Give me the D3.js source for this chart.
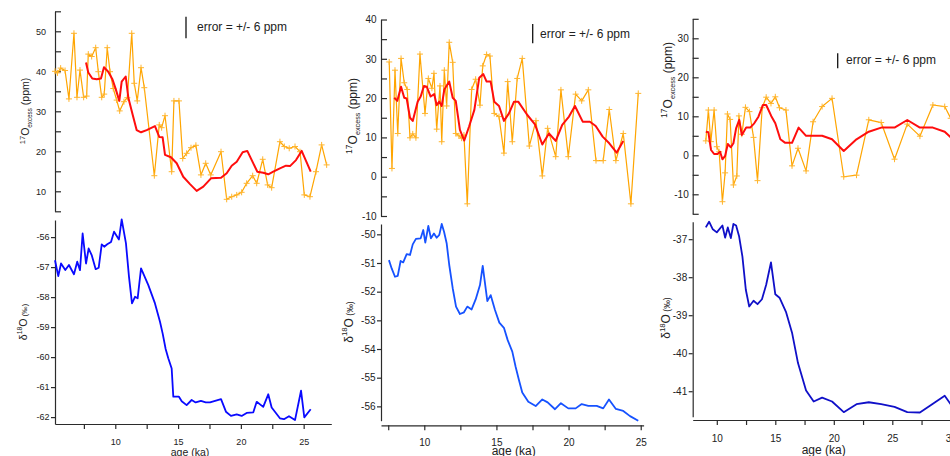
<!DOCTYPE html>
<html><head><meta charset="utf-8">
<script src="https://cdn.jsdelivr.net/npm/d3@7"></script>
<style>html,body{margin:0;padding:0;background:#fff;overflow:hidden}svg{display:block}</style>
</head><body>
<svg id="chart" width="950" height="456"></svg>
<script>
// ---------------- DATA ----------------
// Panel 1
const p1ExcessAge = [5.2,5.4,5.65,6.0,6.31,6.71,6.95,7.19,7.48,7.72,7.85,8.12,8.44,8.65,8.92,9.12,9.36,9.58,9.84,10.11,10.35,10.69,10.96,11.31,11.51,11.75,12.05,12.31,13.11,13.5,13.69,13.96,14.49,14.67,15.07,15.37,15.68,16.03,16.42,16.82,17.2,17.6,18.42,18.87,19.27,19.67,20.06,20.46,20.94,21.26,21.74,22.13,22.45,23.11,23.46,23.85,24.31,24.71,25.05,25.5,25.98,26.43,26.83];
const p1Excess = [40,39.6,40.8,40.2,33.1,49.5,33.5,40.3,33.5,33.8,44.3,43.7,45.9,39.9,33.5,34.3,45.9,39.9,35.7,32.8,30.1,32.4,33.4,49.5,37,32.6,40.9,35.9,13.9,26.6,25.9,28.9,14.9,32.6,32.6,18.2,19.5,20.9,21.5,14.1,17,14.1,19.9,8,8.65,9.1,9.75,12,13.9,12,18,11.6,10.9,22.4,21.2,20.75,21.2,19.9,9.1,8.65,14.9,21.6,16.6];
const p1SmoothAge = [7.67,7.85,8.17,8.52,8.86,9.1,9.44,9.76,10.03,10.32,10.51,10.83,11.04,11.39,11.7,12.05,12.5,13.16,13.5,13.77,13.96,14.43,14.89,15.41,15.95,16.48,17.01,17.62,18.42,18.87,19.27,19.67,20.14,20.51,21.31,21.78,22.18,22.58,23.11,23.59,23.91,24.39,24.84,25.56];
const p1Smooth = [42.2,39.7,38.2,38,38.2,41,39.9,38.1,35.6,32.6,37.4,38.7,33.4,29.1,25.3,24.75,25.3,26.3,23.6,23.5,19.1,18.5,17,13.65,11.8,10.1,11.15,13.25,13.4,14.5,16.4,17.4,19.75,20.1,14.9,14.65,14.25,14.9,15.75,16.4,16.3,17.8,20.1,14.9];
const p1D18Age = [5.2,5.46,5.68,6.02,6.31,6.71,6.97,7.19,7.4,7.67,7.88,8.12,8.44,8.68,8.92,9.12,9.36,9.66,9.9,10.29,10.51,10.85,11.09,11.33,11.57,11.78,12.05,12.63,13.16,13.56,13.77,14.01,14.22,14.49,14.62,15.07,15.29,15.68,16.08,16.4,16.82,17.2,17.54,18.42,18.81,19.21,19.67,20.06,20.46,20.99,21.26,21.78,22.18,22.45,23.11,23.43,23.83,24.31,24.79,25.05,25.56];
const p1D18 = [-56.77,-57.3,-56.88,-57.1,-56.93,-57.24,-56.82,-57.1,-55.88,-56.88,-56.38,-56.6,-57.07,-57.02,-56.24,-56.32,-56.24,-56.16,-55.82,-56.08,-55.41,-56.21,-57.32,-58.21,-57.99,-58.04,-57.04,-57.6,-58.21,-58.82,-59.21,-59.73,-60.04,-60.38,-61.32,-61.32,-61.47,-61.6,-61.43,-61.51,-61.46,-61.51,-61.51,-61.4,-61.82,-61.96,-61.91,-61.96,-61.86,-61.84,-61.49,-61.66,-61.24,-61.68,-62.04,-62.07,-61.97,-62.1,-61.12,-62.01,-61.74];

// Panel 2
const p2ExcessAge = [7.57,7.76,7.97,8.16,8.39,8.61,8.82,9.01,9.2,9.42,9.7,10.05,10.28,10.53,10.67,10.86,11.09,11.21,11.39,11.55,11.73,11.97,12.18,12.4,12.59,12.75,12.98,13.28,13.56,13.86,14.05,14.32,14.55,14.85,15.18,15.52,15.78,16.1,16.44,16.79,17.28,17.74,18.18,18.55,19.11,19.47,19.98,20.49,20.91,21.37,21.9,22.4,22.82,23.28,23.79,24.32,24.83];
const p2Excess = [29.2,2.1,27.1,11,30.1,23.9,22.2,9.9,10.9,9.9,31.2,16.1,25,22.5,26.3,12.1,23.1,8.9,27.1,18,34.2,29.1,11,10.4,9.8,10.6,-6.9,22.2,24.8,18.2,28.2,31.1,30.7,16.1,15.3,6,24.2,8.9,25,30.1,7.8,14.25,0.2,12.3,5.1,22.1,5.1,21,19.3,22.1,4.1,4.1,17.1,4.1,11,-6.9,21.2];
const p2SmoothAge = [7.92,8.13,8.39,8.61,8.78,9.01,9.2,9.54,9.75,9.98,10.17,10.44,10.69,10.86,11.04,11.21,11.39,11.73,11.97,12.18,12.47,12.77,13.1,13.47,13.81,14.09,14.32,14.6,14.85,15.18,15.52,15.87,16.22,16.51,17.14,17.67,18.18,18.64,19.11,19.56,20.03,20.44,20.98,21.48,21.88,22.36,22.82,23.33,23.79];
const p2Smooth = [20.1,19.3,22.9,20.1,19.9,15,14.2,19.1,20.4,23.1,22.9,20.4,21,18.2,19.1,18,22.2,24.2,20.1,19.3,11.9,9.2,12.7,17,25.2,26.1,24.2,24.2,19.1,18,14.2,16.1,19.1,19.1,15.7,13.3,8.2,11,9.1,13.2,15.3,18,14,14,12.9,10.2,8.5,6.1,9.1];
const p2D18Age = [7.55,7.74,7.97,8.16,8.36,8.54,8.78,9.01,9.2,9.42,9.75,9.93,10.07,10.28,10.46,10.67,10.86,11.04,11.21,11.37,11.55,11.73,11.97,12.2,12.47,12.75,12.98,13.28,13.56,13.86,14.05,14.37,14.6,14.9,15.2,15.52,15.78,16.1,16.33,16.56,16.79,17.21,17.72,18.18,18.55,19.06,19.47,19.98,20.49,20.91,21.37,21.95,22.4,22.8,23.28,23.79,24.26,24.83];
const p2D18 = [-50.9,-51.19,-51.48,-51.45,-50.93,-50.98,-50.69,-50.72,-50.35,-50.16,-50.14,-49.85,-50.29,-49.71,-50.14,-49.97,-50.12,-50.02,-49.64,-49.91,-50.31,-51.07,-51.88,-52.52,-52.78,-52.72,-52.52,-52.62,-52.27,-51.77,-51.1,-52.33,-52.12,-52.64,-53.08,-53.26,-53.69,-54.09,-54.62,-55.08,-55.52,-55.84,-55.99,-55.76,-55.86,-56.1,-55.89,-56.07,-56.07,-55.92,-55.98,-55.98,-56.07,-55.76,-56.09,-56.16,-56.34,-56.5];

// Panel 3
const p3ExcessAge = [9.06,9.28,9.49,9.77,10.0,10.2,10.48,10.71,10.91,11.14,11.42,11.71,11.89,12.14,12.45,12.79,13.14,13.48,13.88,14.22,14.63,15.0,15.36,15.91,16.43,16.94,17.63,18.23,19.0,19.85,20.85,21.94,22.99,24.05,25.19,26.28,27.36,28.47,29.48,29.99];
const p3Excess = [3.7,11.6,3.5,11.6,2.2,0.9,-11.9,-4.5,10.6,9.2,-7.6,-5.3,10.1,5.4,12.3,11.2,4.6,-6.5,12.2,14.9,13.3,15,12.2,11.6,-2.7,1.8,-4,8.6,12.5,14.6,-5.5,-5.1,9.1,8.4,-1,8,4.9,12.9,12.5,9.5];
const p3SmoothAge = [9.06,9.28,9.51,9.77,10.05,10.28,10.48,10.71,10.94,11.2,11.42,11.65,11.91,12.14,12.51,12.85,13.2,13.56,13.94,14.22,14.65,15.0,15.43,15.85,16.43,16.99,17.63,18.23,19.0,19.85,20.85,21.94,22.99,24.05,25.19,26.28,27.36,28.47,29.48,29.99];
const p3Smooth = [6.05,5.9,1.36,0.33,0.33,0.92,-1.03,-0.18,2.9,2.05,3.08,6.9,9.05,5.2,7.1,7.1,8.2,9.9,12.9,12.9,10.1,8.2,4.1,3.2,3.2,7.1,5,5,5,4.1,1.1,4.1,6.05,7.1,7.1,9.05,7.1,7.1,6.05,4.6];
const p3D18Age = [9.06,9.34,9.66,10.0,10.48,10.71,10.94,11.2,11.42,11.65,11.91,12.19,12.48,12.77,13.14,13.48,13.86,14.22,14.63,15.0,15.36,15.91,16.43,16.94,17.63,18.28,19.0,19.85,20.85,21.94,22.99,24.05,25.19,26.28,27.36,28.47,29.48,29.99];
const p3D18 = [-36.69,-36.54,-36.74,-36.82,-36.64,-36.96,-36.69,-36.97,-36.6,-36.64,-36.93,-37.46,-38.33,-38.77,-38.62,-38.71,-38.58,-38.2,-37.61,-38.45,-38.54,-38.91,-39.46,-40.26,-40.98,-41.27,-41.17,-41.27,-41.55,-41.34,-41.29,-41.34,-41.41,-41.55,-41.56,-41.33,-41.12,-41.34];

// Tick labels
const p1XTicks = [10, 15, 20, 25];
const p2XTicks = [10, 15, 20, 25];
const p3XTicks = [10, 15, 20, 25, 30];
const p1ExcessTicks = [10, 20, 30, 40, 50];
const p2ExcessTicks = [-10, 0, 10, 20, 30, 40];
const p3ExcessTicks = [-10, 0, 10, 20, 30];
const p1D18Ticks = [-56, -57, -58, -59, -60, -61, -62];
const p2D18Ticks = [-50, -51, -52, -53, -54, -55, -56];
const p3D18Ticks = [-37, -38, -39, -40, -41];
const errorText = "error = +/- 6 ppm";
const xTitle = "age (ka)";

// ---------------- DRAW ----------------
const FONT = "'Liberation Sans', Arial, Helvetica, sans-serif";
const svg = d3.select("#chart");
const ORANGE = "#ffa500", RED = "#ff0d0d", AXIS = "#2b2b2b";

const panels = [
  { xDom:[5.2,27.2], xRange:[55,331.3], xAxisY:424, xTicks:p1XTicks, xLabY:21, xTitle:[190,456], fs:9, tfs:10.5,
    topDom:[5,55], topRange:[211.3,11.3], topTicks:p1ExcessTicks, topStep:5, topPad:9,
    botDom:[-62.23,-55.43], botRange:[424,220], botTicks:p1D18Ticks,
    excessAge:p1ExcessAge, excess:p1Excess, smAge:p1SmoothAge, sm:p1Smooth, dAge:p1D18Age, d:p1D18, blue:"#0a0aff",
    err:{x:186,y1:16.7,y2:38.3,tx:197,ty:31}, topLab:[29,111], botLab:[26.5,322] },
  { xDom:[7,25.2], xRange:[381,643.6], xAxisY:425.3, xTicks:p2XTicks, xLabY:20.7, xTitle:[513.7,455], fs:10, tfs:12,
    topDom:[-10,40], topRange:[216,19.5], topTicks:p2ExcessTicks, topStep:5, topPad:4.5,
    botDom:[-56.5,-49.64], botRange:[420.7,224], botTicks:p2D18Ticks,
    excessAge:p2ExcessAge, excess:p2Excess, smAge:p2SmoothAge, sm:p2Smooth, dAge:p2D18Age, d:p2D18, blue:"#1652ff",
    err:{x:532.7,y1:24,y2:43.3,tx:540,ty:38}, topLab:[357,116], botLab:[352.5,322] },
  { xDom:[7.94,31], xRange:[692.7,962.5], xAxisY:420, xTicks:p3XTicks, xLabY:21.7, xTitle:[823.7,454], fs:10, tfs:12,
    topDom:[-15,35], topRange:[213.8,18.8], topTicks:p3ExcessTicks, topStep:5, topPad:4,
    botDom:[-41.67,-36.54], botRange:[416.7,221.7], botTicks:p3D18Ticks,
    excessAge:p3ExcessAge, excess:p3Excess, smAge:p3SmoothAge, sm:p3Smooth, dAge:p3D18Age, d:p3D18, blue:"#1010c8",
    err:{x:837.7,y1:53.3,y2:68.3,tx:846,ty:64}, topLab:[672,80], botLab:[670,318] }
];

function styleAxis(g, fs) {
  g.selectAll("path.domain").attr("stroke", AXIS).attr("stroke-width", 1.2);
  g.selectAll(".tick line").attr("stroke", AXIS).attr("stroke-width", 1.2);
  g.selectAll("text").attr("fill", "#222").attr("font-family", FONT).attr("font-size", fs);
}

panels.forEach(p => {
  const x = d3.scaleLinear().domain(p.xDom).range(p.xRange);
  const yTop = d3.scaleLinear().domain(p.topDom).range(p.topRange);
  const yBot = d3.scaleLinear().domain(p.botDom).range(p.botRange);

  // top y axis (ticks inward, labels left)
  const topAll = d3.range(p.topDom[0], p.topDom[1] + 0.001, p.topStep);
  const gT = svg.append("g").attr("transform", `translate(${p.xRange[0]},0)`)
    .call(d3.axisLeft(yTop).tickValues(topAll).tickSizeInner(-6).tickSizeOuter(0).tickPadding(p.topPad)
      .tickFormat(d => p.topTicks.includes(d) ? String(d) : ""));
  styleAxis(gT, p.fs);

  // bottom y axis (ticks outward)
  const gB = svg.append("g").attr("transform", `translate(${p.xRange[0]},0)`)
    .call(d3.axisLeft(yBot).tickValues(p.botTicks).tickSizeInner(4).tickSizeOuter(0).tickPadding(1.5)
      .tickFormat(d => String(d)));
  styleAxis(gB, p.fs);

  // x axis
  const minor = [];
  for (let v = 7.5; v <= p.xDom[1]; v += 2.5) if (v >= p.xDom[0]) minor.push(v);
  const gX = svg.append("g").attr("transform", `translate(0,${p.xAxisY})`)
    .call(d3.axisBottom(x).tickValues(minor).tickSizeInner(5).tickSizeOuter(0)
      .tickFormat(d => p.xTicks.includes(d) ? String(d) : ""));
  styleAxis(gX, p.fs);
  gX.selectAll("text").attr("dy", null).attr("y", p.xLabY);

  svg.append("text").attr("x", p.xTitle[0]).attr("y", p.xTitle[1]).attr("text-anchor", "middle")
    .attr("font-family", FONT).attr("font-size", p.tfs).attr("fill", "#222").text(xTitle);

  // top y title
  const tt = svg.append("text").attr("transform", `translate(${p.topLab[0]},${p.topLab[1]}) rotate(-90)`)
    .attr("text-anchor", "middle").attr("font-family", FONT).attr("font-size", p.tfs).attr("fill", "#222");
  tt.append("tspan").attr("font-size", p.tfs * 0.72).attr("dy", -p.tfs * 0.42).text("17");
  tt.append("tspan").attr("dy", p.tfs * 0.42).text("O");
  tt.append("tspan").attr("font-size", p.tfs * 0.6).attr("dy", p.tfs * 0.25).text("excess");
  tt.append("tspan").attr("dy", -p.tfs * 0.25).text(" (ppm)");

  // bottom y title
  const bt = svg.append("text").attr("transform", `translate(${p.botLab[0]},${p.botLab[1]}) rotate(-90)`)
    .attr("text-anchor", "middle").attr("font-family", FONT).attr("font-size", p.tfs).attr("fill", "#222");
  bt.append("tspan").text("δ");
  bt.append("tspan").attr("font-size", p.tfs * 0.65).attr("dy", -p.tfs * 0.42).text("18");
  bt.append("tspan").attr("dy", p.tfs * 0.42).text("O");
  bt.append("tspan").attr("font-size", p.tfs * 0.72).text(" (‰)");

  // orange series with + markers
  const exc = p.excessAge.map((a, i) => [a, p.excess[i]]);
  const lineT = d3.line().x(d => x(d[0])).y(d => yTop(d[1]));
  svg.append("path").datum(exc).attr("d", lineT).attr("fill", "none")
    .attr("stroke", ORANGE).attr("stroke-width", 1.2).attr("stroke-linejoin", "round");
  svg.append("g").selectAll("path").data(exc).join("path")
    .attr("d", d => `M${x(d[0]) - 3},${yTop(d[1])}H${x(d[0]) + 3}M${x(d[0])},${yTop(d[1]) - 3}V${yTop(d[1]) + 3}`)
    .attr("stroke", "#ffb52e").attr("stroke-width", 1).attr("fill", "none");

  // red smooth
  const sm = p.smAge.map((a, i) => [a, p.sm[i]]);
  svg.append("path").datum(sm).attr("d", lineT).attr("fill", "none")
    .attr("stroke", RED).attr("stroke-width", 2).attr("stroke-linejoin", "round");

  // blue d18O
  const dd = p.dAge.map((a, i) => [a, p.d[i]]);
  svg.append("path").datum(dd).attr("d", d3.line().x(d => x(d[0])).y(d => yBot(d[1])))
    .attr("fill", "none").attr("stroke", p.blue).attr("stroke-width", 1.8).attr("stroke-linejoin", "round");

  // error annotation
  svg.append("line").attr("x1", p.err.x).attr("x2", p.err.x).attr("y1", p.err.y1).attr("y2", p.err.y2)
    .attr("stroke", "#111").attr("stroke-width", 1.3);
  svg.append("text").attr("x", p.err.tx).attr("y", p.err.ty).attr("font-family", FONT)
    .attr("font-size", 12).attr("fill", "#222").text(errorText);
});
</script>
</body></html>
